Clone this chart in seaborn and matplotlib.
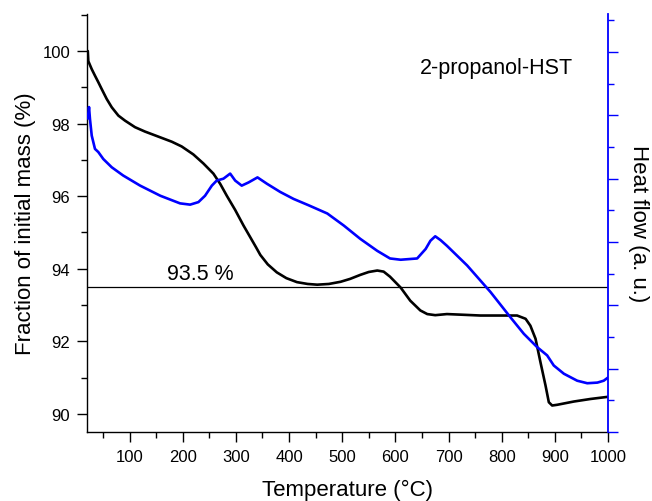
import matplotlib
matplotlib.use("Agg")
import matplotlib.pyplot as plt
from matplotlib.ticker import MultipleLocator, NullFormatter
import numpy as np
import pandas as pd
import seaborn as sns

# TGA mass curve: temperature (°C) vs. fraction of initial mass (%)
tga_temp = [21.5, 22.5, 28.9, 35, 41.3, 47.7, 57, 66.5, 79, 91.6, 110.4, 129, 154.3,
            179.5, 198, 220, 239, 257.8, 270.5, 283, 298.7, 314.4, 327, 338,
            346, 360, 377, 395, 415, 435, 453, 475, 497, 515, 534, 550, 566,
            578, 590, 600, 610, 628, 647, 660, 675, 697, 729, 760, 792, 829,
            845, 854, 863.7, 873, 882.5, 888.7, 895, 904.5, 935.8, 967, 1000]
tga_mass = [100.0, 99.72, 99.50, 99.32, 99.14, 98.95, 98.68, 98.45, 98.22, 98.08,
            97.90, 97.78, 97.64, 97.50, 97.37, 97.15, 96.90, 96.62, 96.34, 96.01,
            95.62, 95.19, 94.87, 94.59, 94.38, 94.12, 93.90, 93.74, 93.63, 93.58,
            93.56, 93.58, 93.64, 93.72, 93.83, 93.91, 93.95, 93.92, 93.78, 93.63,
            93.48, 93.12, 92.85, 92.75, 92.72, 92.75, 92.73, 92.71, 92.71, 92.71,
            92.62, 92.43, 92.07, 91.42, 90.78, 90.32, 90.23, 90.25, 90.34, 90.41,
            90.47]

# DSC heat flow curve (arbitrary units)
dsc_temp = [21.5, 23.8, 25.6, 28.9, 35, 41.3, 50.7, 66.5, 88, 120, 158, 195, 214,
            229.6, 242, 254.8, 264, 276.7, 289.3, 298.7, 311, 323.8, 340.7,
            358.4, 383.5, 408.6, 436.8, 472, 503, 534, 566, 590, 610, 641, 657,
            666, 675, 685, 697, 735, 779, 816.6, 841.7, 866.7, 885.5, 898, 917,
            942, 961, 980, 992, 1000]
dsc_heat = [4.95, 5.13, 4.94, 4.68, 4.47, 4.42, 4.31, 4.18, 4.05, 3.89, 3.73, 3.61,
            3.59, 3.63, 3.73, 3.89, 3.97, 4.00, 4.08, 3.97, 3.89, 3.94, 4.02, 3.92,
            3.79, 3.68, 3.58, 3.45, 3.26, 3.05, 2.86, 2.74, 2.72, 2.74, 2.89, 3.02,
            3.09, 3.03, 2.94, 2.63, 2.21, 1.81, 1.55, 1.34, 1.21, 1.05, 0.92, 0.81,
            0.77, 0.78, 0.81, 0.86]

residual_level = 93.5
sample_name = "2-propanol-HST"

tga = pd.DataFrame({"T": tga_temp, "mass": tga_mass})
dsc = pd.DataFrame({"T": dsc_temp, "heat": dsc_heat})

sns.set_style("ticks")
plt.rcParams["font.family"] = ["Liberation Sans", "DejaVu Sans"]
plt.rcParams["axes.linewidth"] = 1.0
for key in ("text.color", "axes.labelcolor", "xtick.color", "ytick.color",
            "axes.edgecolor"):
    plt.rcParams[key] = "black"

fig = plt.figure(figsize=(6.52, 5.02), dpi=100)
ax = fig.add_axes([87 / 652, (502 - 433) / 502, (608 - 87) / 652, (433 - 15) / 502])
ax2 = ax.twinx()

sns.lineplot(data=tga, x="T", y="mass", ax=ax, color="black", lw=1.9,
             sort=False, estimator=None, solid_joinstyle="round")
sns.lineplot(data=dsc, x="T", y="heat", ax=ax2, color="#0000ff", lw=1.9,
             sort=False, estimator=None, solid_joinstyle="round")

ax.axhline(residual_level, color="black", lw=0.9)
ax.text(233, residual_level + 0.08, f"{residual_level} %", ha="center",
        va="bottom", fontsize=15.5)
ax.text(0.933, 0.872, sample_name, transform=ax.transAxes, ha="right",
        va="center", fontsize=15.5)

ax.set_xlim(20, 1000)
ax.set_ylim(89.5, 101.02)
ax2.set_ylim(0, 6.6)

ax.xaxis.set_major_locator(MultipleLocator(100))
ax.xaxis.set_minor_locator(MultipleLocator(50))
ax.yaxis.set_major_locator(MultipleLocator(2))
ax.yaxis.set_minor_locator(MultipleLocator(1))
ax.set_xticks(np.arange(100, 1001, 100))
ax2.yaxis.set_major_locator(MultipleLocator(1))
ax2.yaxis.set_minor_locator(MultipleLocator(0.5))
ax2.yaxis.set_major_formatter(NullFormatter())

ax.tick_params(which="major", direction="out", length=7, width=1, labelsize=12,
               pad=5)
ax.tick_params(which="minor", direction="out", length=4, width=1)
ax2.tick_params(which="major", direction="out", length=7, width=1,
                color="#0000ff")
ax2.tick_params(which="minor", direction="out", length=4, width=1,
                color="#0000ff")

for a in (ax, ax2):
    a.spines["top"].set_visible(False)
ax.spines["right"].set_visible(False)
ax2.spines["left"].set_visible(False)
ax2.spines["bottom"].set_visible(False)
ax2.spines["right"].set_color("#0000ff")
ax2.spines["right"].set_linewidth(1.3)

ax.set_xlabel("Temperature (°C)", fontsize=16, labelpad=11)
ax.set_ylabel("Fraction of initial mass (%)", fontsize=16, labelpad=5)
ax2.set_ylabel("Heat flow (a. u.)", fontsize=16, rotation=270, labelpad=19)

fig.savefig("out.png", dpi=100)
